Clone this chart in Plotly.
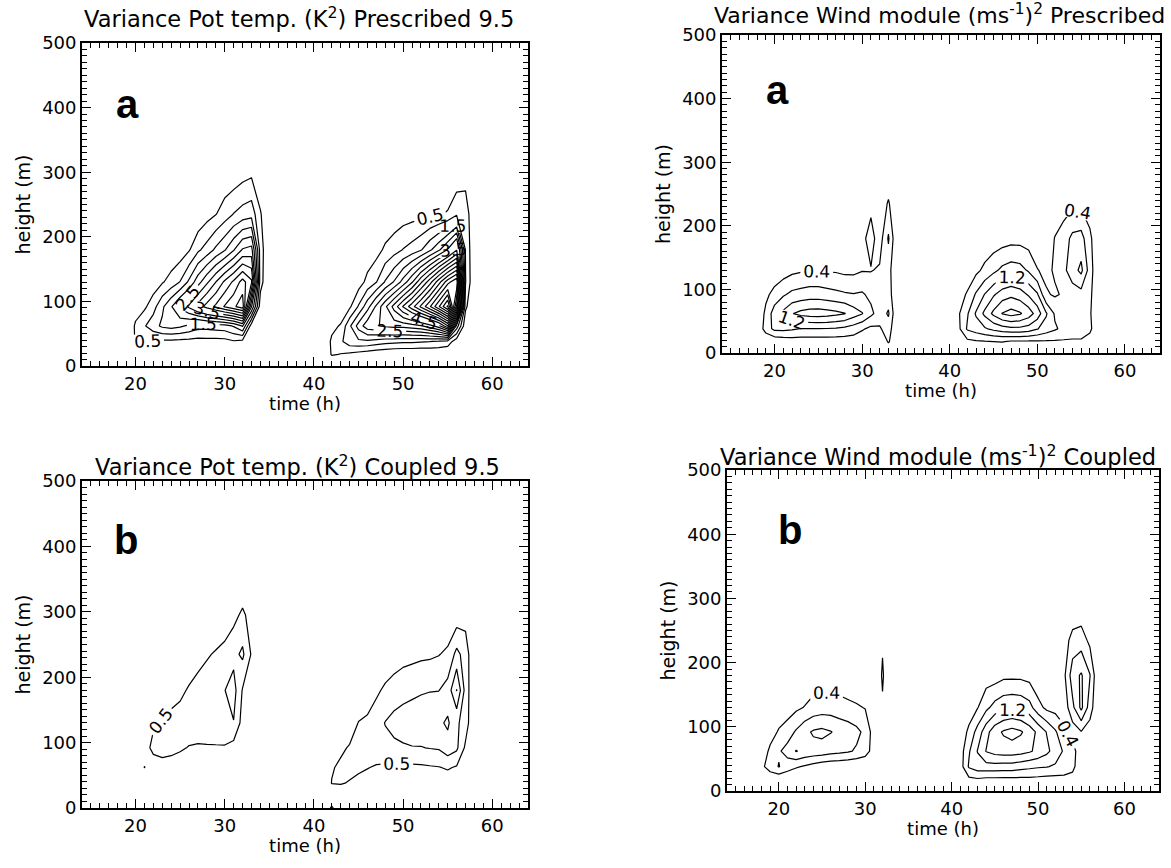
import plotly.graph_objects as go

FONT = "DejaVu Sans"
W, H = 1171, 868

# ---------------- data grid ----------------
HEIGHTS = [0, 18, 38, 62, 92, 130, 180, 235, 295, 360]   # m
TIME_MIN, TIME_MAX = 14, 64
TIMES = list(range(TIME_MIN, TIME_MAX + 1))               # h

# Each blob: first hour, then one column of values (at HEIGHTS) per hour.
# --- Variance potential temperature, prescribed (K^2)
theta_presc_day1_start = 19
theta_presc_day1 = [
    [0, 0, 0, 0, 0, 0, 0, 0, 0, 0],
    [0, 0, 0.55, 0.58, 0.25, 0, 0, 0, 0, 0],
    [0, 0, 0.52, 0.95, 0.4, 0.05, 0, 0, 0, 0],
    [0, 0, 0.45, 1.3, 0.8, 0.2, 0, 0, 0, 0],
    [0, 0, 0.4, 1.6, 1.4, 0.45, 0, 0, 0, 0],
    [0, 0, 0.38, 1.7, 1.95, 0.7, 0.1, 0, 0, 0],
    [0, 0, 0.36, 1.6, 2.6, 1.02, 0.2, 0, 0, 0],
    [0, 0, 0.34, 1.4, 3.1, 1.6, 0.45, 0.05, 0, 0],
    [0, 0, 0.32, 1.18, 3.7, 2.3, 0.9, 0.1, 0, 0],
    [0, 0, 0.32, 1.2, 4.2, 2.9, 1.2, 0.3, 0, 0],
    [0, 0, 0.32, 1.25, 4.6, 3.5, 1.6, 0.48, 0.05, 0],
    [0, 0, 0.33, 1.3, 5.05, 4.1, 1.95, 0.75, 0.15, 0],
    [0, 0, 0.45, 1.55, 5.4, 4.6, 2.45, 1.02, 0.2, 0],
    [0, 0, 0.35, 2.05, 5.8, 5.2, 3.05, 1.2, 0.35, 0],
    [0, 0, 0, 0.2, 2.55, 4.6, 3.2, 1.3, 0.45, 0],
    [0, 0, 0, 0, 0.2, 0.7, 0.75, 0.55, 0.1, 0],
    [0, 0, 0, 0, 0, 0, 0, 0, 0, 0],
]
theta_presc_day2_start = 41
theta_presc_day2 = [
    [0, 0, 0, 0, 0, 0, 0, 0, 0, 0],
    [0, 0.55, 0.6, 0.35, 0, 0, 0, 0, 0, 0],
    [0, 0.48, 0.9, 0.55, 0.1, 0, 0, 0, 0, 0],
    [0, 0.4, 1.3, 1.4, 0.4, 0.05, 0, 0, 0, 0],
    [0, 0.3, 1.4, 2.2, 1.05, 0.25, 0, 0, 0, 0],
    [0, 0.2, 1.4, 2.8, 1.8, 0.65, 0.15, 0, 0, 0],
    [0, 0.1, 1.3, 2.95, 2.6, 0.98, 0.3, 0, 0, 0],
    [0, 0.05, 1.2, 3.1, 3.4, 1.55, 0.6, 0.05, 0, 0],
    [0, 0, 1.15, 3.2, 4.2, 2.05, 0.8, 0.15, 0, 0],
    [0, 0, 1.1, 3.2, 5.05, 2.7, 1.02, 0.25, 0, 0],
    [0, 0, 1.1, 3.3, 5.8, 3.45, 1.2, 0.3, 0, 0],
    [0, 0, 1.05, 3.45, 6.6, 4.4, 1.45, 0.35, 0, 0],
    [0, 0, 1.02, 3.8, 7.45, 5.3, 1.9, 0.4, 0, 0],
    [0, 0, 0.95, 4.3, 8.45, 6.3, 2.4, 0.45, 0, 0],
    [0, 0, 0.8, 5.45, 9.6, 7.3, 3.05, 0.55, 0.05, 0],
    [0, 0, 0.2, 1.8, 6.45, 7.95, 3.95, 0.9, 0.2, 0],
    [0, 0, 0, 0.1, 0.6, 1.02, 0.95, 0.8, 0.3, 0],
    [0, 0, 0, 0, 0, 0, 0, 0, 0, 0],
]

# --- Variance potential temperature, coupled (K^2)
theta_coupl_day1_start = 20
theta_coupl_day1 = [
    [0, 0, 0, 0, 0, 0, 0, 0, 0, 0],
    [0, 0, 0, 0.51, 0.35, 0.2, 0, 0, 0, 0],
    [0, 0, 0, 0.3, 0.6, 0.45, 0.1, 0, 0, 0],
    [0, 0, 0, 0.35, 0.65, 0.55, 0.15, 0, 0, 0],
    [0, 0, 0, 0.35, 0.6, 0.65, 0.3, 0, 0, 0],
    [0, 0, 0, 0.3, 0.55, 0.7, 0.4, 0.05, 0, 0],
    [0, 0, 0, 0.25, 0.48, 0.7, 0.55, 0.2, 0, 0],
    [0, 0, 0, 0.2, 0.45, 0.75, 0.65, 0.35, 0, 0],
    [0, 0, 0, 0.2, 0.45, 0.8, 0.75, 0.45, 0.05, 0],
    [0, 0, 0, 0.2, 0.45, 0.85, 0.85, 0.55, 0.1, 0],
    [0, 0, 0, 0.2, 0.45, 0.9, 0.99, 0.65, 0.2, 0],
    [0, 0, 0, 0.1, 0.3, 0.98, 1.2, 0.85, 0.35, 0],
    [0, 0, 0, 0, 0.1, 0.3, 0.46, 1.1, 0.6, 0],
    [0, 0, 0, 0, 0, 0.05, 0.2, 0.45, 0.3, 0],
    [0, 0, 0, 0, 0, 0, 0, 0, 0, 0],
]
theta_coupl_day2_start = 41
theta_coupl_day2 = [
    [0, 0, 0, 0, 0, 0, 0, 0, 0, 0],
    [0.6, 0, 0.52, 0.45, 0.1, 0, 0, 0, 0, 0],
    [0, 0, 0.55, 0.6, 0.4, 0, 0, 0, 0, 0],
    [0, 0, 0.45, 0.7, 0.55, 0.2, 0, 0, 0, 0],
    [0, 0, 0.35, 0.6, 0.7, 0.52, 0.1, 0, 0, 0],
    [0, 0, 0.3, 0.52, 0.75, 0.6, 0.2, 0, 0, 0],
    [0, 0, 0.25, 0.45, 0.8, 0.8, 0.4, 0, 0, 0],
    [0, 0, 0.2, 0.42, 0.85, 1.02, 0.6, 0.1, 0, 0],
    [0, 0, 0.2, 0.4, 0.9, 1.15, 0.75, 0.2, 0, 0],
    [0, 0, 0.2, 0.4, 0.95, 1.2, 0.85, 0.3, 0, 0],
    [0, 0, 0.2, 0.4, 0.98, 1.25, 0.9, 0.35, 0, 0],
    [0, 0, 0.2, 0.42, 0.98, 1.3, 0.95, 0.4, 0, 0],
    [0, 0, 0.2, 0.45, 1.02, 1.35, 0.98, 0.42, 0.02, 0],
    [0, 0, 0.2, 0.48, 1.05, 1.4, 0.99, 0.48, 0.05, 0],
    [0, 0, 0.25, 0.55, 1.3, 1.58, 1.2, 0.6, 0.1, 0],
    [0, 0, 0.1, 0.45, 1.1, 1.1, 2.02, 1.15, 0.2, 0],
    [0, 0, 0, 0.1, 0.4, 0.75, 0.8, 0.78, 0.3, 0],
    [0, 0, 0, 0, 0, 0, 0, 0, 0, 0],
]

# --- Variance wind module, prescribed ((m/s)^2)
wind_presc_day1_start = 18
wind_presc_day1 = [
    [0, 0, 0, 0, 0, 0, 0, 0, 0, 0],
    [0, 0, 0.6, 0.5, 0.3, 0, 0, 0, 0, 0],
    [0, 0.1, 0.9, 1.0, 0.55, 0.1, 0, 0, 0, 0],
    [0, 0.15, 0.9, 1.3, 0.75, 0.2, 0, 0, 0, 0],
    [0, 0.2, 0.85, 1.58, 0.9, 0.3, 0, 0, 0, 0],
    [0, 0.2, 0.78, 1.72, 0.95, 0.35, 0, 0, 0, 0],
    [0, 0.2, 0.78, 1.78, 1.0, 0.38, 0, 0, 0, 0],
    [0, 0.2, 0.78, 1.8, 1.0, 0.38, 0, 0, 0, 0],
    [0, 0.2, 0.78, 1.76, 0.95, 0.36, 0, 0, 0, 0],
    [0, 0.2, 0.75, 1.7, 0.9, 0.35, 0, 0, 0, 0],
    [0, 0.2, 0.7, 1.62, 0.85, 0.3, 0, 0, 0, 0],
    [0, 0.2, 0.6, 1.4, 0.82, 0.3, 0.1, 0, 0, 0],
    [0, 0.1, 0.45, 1.22, 0.85, 0.38, 0.3, 0.1, 0, 0],
    [0, 0, 0.3, 0.9, 0.7, 0.38, 0.55, 0.3, 0, 0],
    [0, 0, 0.35, 0.6, 0.55, 0.45, 0.2, 0.1, 0, 0],
    [0, 0.45, 0.6, 0.85, 0.6, 0.55, 0.85, 0.45, 0, 0],
    [0, 0, 0, 0, 0, 0, 0, 0, 0, 0],
]
wind_presc_day2_start = 41
wind_presc_day2 = [
    [0, 0, 0.3, 0.35, 0.2, 0, 0, 0, 0, 0],
    [0, 0.3, 0.85, 0.75, 0.45, 0.1, 0, 0, 0, 0],
    [0, 0.35, 1.0, 1.25, 0.85, 0.3, 0, 0, 0, 0],
    [0, 0.38, 1.15, 1.7, 1.22, 0.5, 0.1, 0, 0, 0],
    [0, 0.4, 1.3, 2.1, 1.55, 0.7, 0.15, 0, 0, 0],
    [0, 0.42, 1.42, 2.42, 1.8, 0.9, 0.2, 0, 0, 0],
    [0, 0.35, 1.5, 2.55, 1.9, 1.0, 0.25, 0, 0, 0],
    [0, 0.35, 1.5, 2.45, 1.8, 0.95, 0.25, 0, 0, 0],
    [0, 0.35, 1.42, 2.22, 1.55, 0.75, 0.2, 0, 0, 0],
    [0, 0.35, 1.22, 1.82, 1.25, 0.42, 0.1, 0, 0, 0],
    [0, 0.35, 1.02, 1.25, 0.45, 0.3, 0.1, 0, 0, 0],
    [0, 0.35, 0.85, 0.75, 0.35, 0.45, 0.42, 0.1, 0, 0],
    [0, 0.35, 0.7, 0.55, 0.45, 0.7, 0.6, 0.2, 0, 0],
    [0, 0.35, 0.6, 0.5, 0.6, 1.02, 0.9, 0.3, 0, 0],
    [0, 0.35, 0.6, 0.5, 0.65, 1.3, 0.95, 0.3, 0, 0],
    [0, 0.2, 0.5, 0.45, 0.5, 0.6, 0.5, 0.15, 0, 0],
    [0, 0, 0, 0, 0, 0, 0, 0, 0, 0],
]

# --- Variance wind module, coupled ((m/s)^2)
wind_coupl_day1_start = 18
wind_coupl_day1 = [
    [0, 0, 0.3, 0.1, 0, 0, 0, 0, 0, 0],
    [0, 0.1, 0.6, 0.5, 0.2, 0, 0, 0, 0, 0],
    [0, 0.1, 0.82, 0.75, 0.45, 0.1, 0, 0, 0, 0],
    [0, 0.05, 0.6, 0.95, 0.6, 0.2, 0, 0, 0, 0],
    [0, 0, 0.45, 1.22, 0.85, 0.32, 0, 0, 0, 0],
    [0, 0, 0.35, 1.1, 1.1, 0.42, 0.1, 0, 0, 0],
    [0, 0, 0.25, 1.05, 1.25, 0.55, 0.15, 0, 0, 0],
    [0, 0, 0.15, 1.02, 1.3, 0.6, 0.2, 0, 0, 0],
    [0, 0, 0.1, 0.95, 1.22, 0.6, 0.2, 0, 0, 0],
    [0, 0, 0.08, 0.9, 1.1, 0.55, 0.15, 0, 0, 0],
    [0, 0, 0.05, 0.85, 1.02, 0.5, 0.1, 0, 0, 0],
    [0, 0, 0.03, 0.75, 0.9, 0.45, 0.05, 0, 0, 0],
    [0, 0, 0, 0.6, 0.7, 0.38, 0, 0, 0, 0],
    [0, 0, 0, 0.2, 0.2, 0.1, 0, 0, 0, 0],
    [0, 0, 0, 0, 0, 0.35, 0.45, 0.35, 0, 0],
    [0, 0, 0, 0, 0, 0, 0, 0, 0, 0],
]
wind_coupl_day2_start = 41
wind_coupl_day2 = [
    [0, 0, 0.2, 0.2, 0.1, 0, 0, 0, 0, 0],
    [0, 0.3, 0.85, 0.75, 0.5, 0.15, 0, 0, 0, 0],
    [0, 0.35, 1.02, 1.22, 0.95, 0.38, 0, 0, 0, 0],
    [0, 0.3, 1.05, 1.62, 1.45, 0.7, 0.2, 0, 0, 0],
    [0, 0.3, 1.05, 1.75, 1.85, 0.95, 0.2, 0, 0, 0],
    [0, 0.3, 1.02, 1.8, 2.05, 1.1, 0.3, 0, 0, 0],
    [0, 0.3, 1.02, 1.8, 2.15, 1.15, 0.3, 0, 0, 0],
    [0, 0.3, 0.95, 1.75, 2.05, 1.1, 0.3, 0, 0, 0],
    [0, 0.3, 0.9, 1.65, 1.82, 0.95, 0.25, 0, 0, 0],
    [0, 0.28, 0.85, 1.5, 1.5, 0.55, 0.05, 0, 0, 0],
    [0, 0.25, 0.82, 1.3, 1.18, 0.3, 0, 0, 0, 0],
    [0, 0.25, 0.75, 1.02, 0.85, 0.25, 0, 0, 0, 0],
    [0, 0.25, 0.7, 0.75, 0.5, 0.15, 0.3, 0.2, 0, 0],
    [0, 0.2, 0.55, 0.6, 0.2, 0.7, 1.02, 0.55, 0, 0],
    [0, 0, 0, 0.05, 0.38, 1.3, 1.25, 0.6, 0.05, 0],
    [0, 0, 0, 0, 0.2, 0.6, 0.82, 0.3, 0, 0],
    [0, 0, 0, 0, 0, 0, 0, 0, 0, 0],
]

THETA_LEVELS = [0.5, 1.0, 1.5, 2.0, 2.5, 3.0, 3.5, 4.0, 4.5, 5.0, 5.5, 6.0, 6.5,
                7.0, 7.5, 8.0, 8.5, 9.0, 9.5]
WIND_LEVELS = [0.4, 0.8, 1.2, 1.6, 2.0, 2.4]

TITLES = [
    "Variance Pot temp. (K<sup>2</sup>) Prescribed 9.5",
    "Variance Wind module (ms<sup>-1</sup>)<sup>2</sup> Prescribed",
    "Variance Pot temp. (K<sup>2</sup>) Coupled 9.5",
    "Variance Wind module (ms<sup>-1</sup>)<sup>2</sup> Coupled",
]
PANEL_LETTERS = ["a", "a", "b", "b"]
X_TICKS = [20, 30, 40, 50, 60]
Y_TICKS = [0, 100, 200, 300, 400, 500]


def build_field(blobs):
    z = [[0.0] * len(TIMES) for _ in HEIGHTS]
    for start, cols in blobs:
        for j, col in enumerate(cols):
            c = start + j - TIME_MIN
            for i, v in enumerate(col):
                z[i][c] = v
    return z


fields = [
    build_field([(theta_presc_day1_start, theta_presc_day1),
                 (theta_presc_day2_start, theta_presc_day2)]),
    build_field([(wind_presc_day1_start, wind_presc_day1),
                 (wind_presc_day2_start, wind_presc_day2)]),
    build_field([(theta_coupl_day1_start, theta_coupl_day1),
                 (theta_coupl_day2_start, theta_coupl_day2)]),
    build_field([(wind_coupl_day1_start, wind_coupl_day1),
                 (wind_coupl_day2_start, wind_coupl_day2)]),
]
level_sets = [THETA_LEVELS, WIND_LEVELS, THETA_LEVELS, WIND_LEVELS]
labeled_sets = [[0.5, 1.5, 2.5, 3.5, 4.5], [0.4, 1.2], [0.5], [0.4, 1.2]]

# panel frames in pixels: (left, right, top, bottom)
PANEL_PX = [(82, 528, 43, 366), (722, 1160, 35, 353),
            (82, 528, 481, 808), (727, 1159, 470, 791)]
TITLE_PX = [(299, 18), (939, 14), (297, 465), (938, 455)]
TITLE_SIZE = [22.5, 22, 22.5, 22.5]
LETTER_PX = [(127, 104), (777, 90), (126, 540), (790, 530)]

fig = go.Figure()

for p in range(4):
    xa = "x" if p == 0 else f"x{p+1}"
    ya = "y" if p == 0 else f"y{p+1}"
    for lv in level_sets[p]:
        lab = any(abs(lv - q) < 1e-6 for q in labeled_sets[p])
        fig.add_trace(go.Contour(
            x=TIMES, y=HEIGHTS, z=fields[p], xaxis=xa, yaxis=ya,
            autocontour=False,
            contours=dict(start=lv, end=lv, size=1, coloring="none",
                          showlabels=lab,
                          labelfont=dict(family=FONT, size=17, color="black"),
                          labelformat=".1f"),
            line=dict(color="black", width=1.2, smoothing=0),
            showscale=False, hoverinfo="skip",
        ))

axis_common = dict(
    showline=True, linecolor="black", linewidth=1.8, mirror="ticks",
    ticks="inside", ticklen=9, tickwidth=1.4, tickcolor="black",
    showgrid=False, zeroline=False, automargin=False,
    tickfont=dict(family=FONT, size=18, color="black"),
)

layout = dict(template="none", width=W, height=H,
              margin=dict(l=0, r=0, t=0, b=0, autoexpand=False),
              paper_bgcolor="white", plot_bgcolor="white", showlegend=False)
annotations = []
for p in range(4):
    l, r, t, b = PANEL_PX[p]
    sx = "" if p == 0 else str(p + 1)
    layout["xaxis" + sx] = dict(
        axis_common, domain=[l / W, r / W], anchor="y" + sx,
        range=[TIME_MIN, TIME_MAX], tickvals=X_TICKS,
        minor=dict(ticks="inside", ticklen=5, tickwidth=1.1, tickcolor="black", dtick=1,
                   showgrid=False),
        title=dict(text="time (h)", font=dict(family=FONT, size=18, color="black"),
                   standoff=3),
    )
    layout["yaxis" + sx] = dict(
        axis_common, domain=[1 - b / H, 1 - t / H], anchor="x" + sx,
        range=[0, 500], tickvals=Y_TICKS,
        minor=dict(ticks="inside", ticklen=5, tickwidth=1.1, tickcolor="black", dtick=10,
                   showgrid=False),
        title=dict(text="height (m)", font=dict(family=FONT, size=19, color="black"),
                   standoff=6),
    )
    tx, ty = TITLE_PX[p]
    annotations.append(dict(text=TITLES[p], x=tx / W, y=1 - ty / H, xref="paper",
                            yref="paper", showarrow=False, xanchor="center",
                            yanchor="middle",
                            font=dict(family=FONT, size=TITLE_SIZE[p], color="black")))
    lx, ly = LETTER_PX[p]
    annotations.append(dict(text="<b>" + PANEL_LETTERS[p] + "</b>", x=lx / W,
                            y=1 - ly / H, xref="paper", yref="paper",
                            showarrow=False, xanchor="center", yanchor="middle",
                            font=dict(family="Liberation Sans", size=40,
                                      color="black")))

layout["annotations"] = annotations
fig.update_layout(**layout)
fig.write_html("out.html", config={"displayModeBar": False},
               post_script="document.body.style.margin='0px';")
